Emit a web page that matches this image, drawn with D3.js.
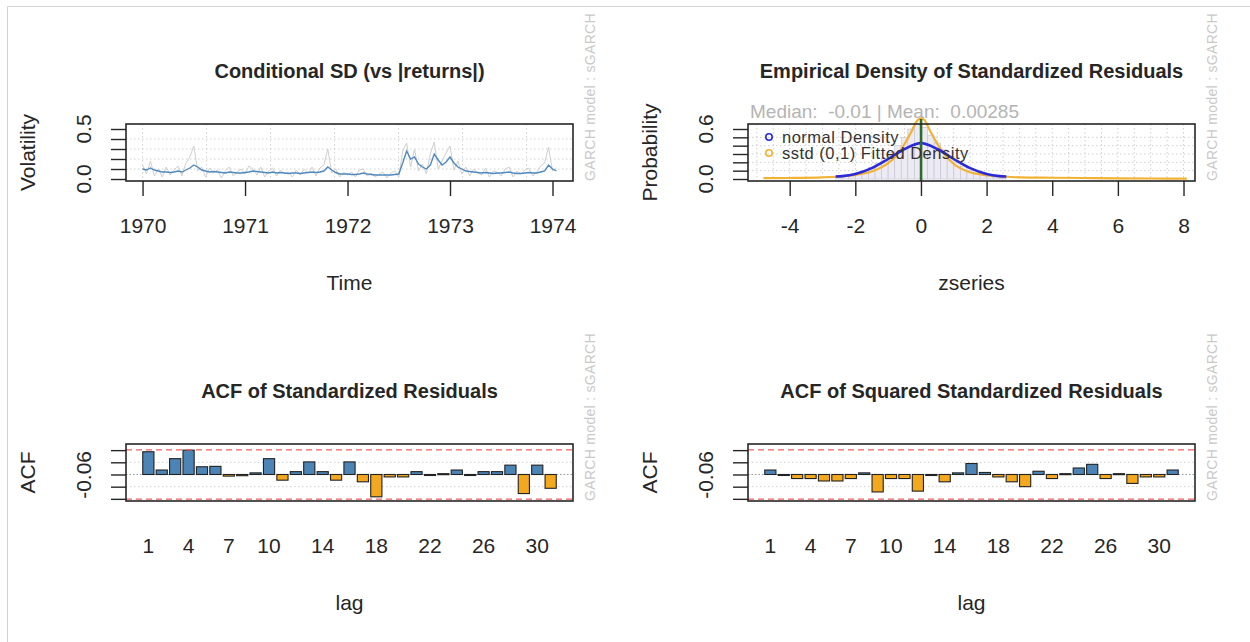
<!DOCTYPE html>
<html>
<head>
<meta charset="utf-8">
<script src="https://cdn.jsdelivr.net/npm/d3@7"></script>
<style>
  body { margin: 0; background: #fff; }
  svg { display: block; font-family: "Liberation Sans", Arial, sans-serif; }
</style>
</head>
<body>
<script>
// values

// panel 1 : conditional sd vs |returns| (biweekly readings)
var tsStart = 1970
var tsStep = 1 / 26
var yearTicks = [1970, 1971, 1972, 1973, 1974]
var sigma = [
  0.10, 0.09, 0.11, 0.09, 0.08, 0.07, 0.07, 0.065, 0.07, 0.08, 0.07, 0.09, 0.11,
  0.14, 0.12, 0.09, 0.08, 0.07, 0.075, 0.07, 0.065, 0.06, 0.07, 0.065, 0.06, 0.06,
  0.065, 0.07, 0.08, 0.075, 0.07, 0.065, 0.06, 0.07, 0.06, 0.065, 0.06, 0.055, 0.06,
  0.06, 0.055, 0.06, 0.065, 0.07, 0.065, 0.07, 0.08, 0.12, 0.09, 0.065, 0.05, 0.05,
  0.05, 0.045, 0.045, 0.05, 0.06, 0.05, 0.045, 0.04, 0.04, 0.04, 0.04, 0.04, 0.045,
  0.05, 0.16, 0.28, 0.20, 0.22, 0.15, 0.12, 0.10, 0.14, 0.25, 0.19, 0.14, 0.17,
  0.22, 0.16, 0.12, 0.10, 0.08, 0.075, 0.07, 0.065, 0.06, 0.065, 0.06, 0.055, 0.06,
  0.06, 0.065, 0.07, 0.06, 0.055, 0.055, 0.06, 0.065, 0.06, 0.06, 0.07, 0.08, 0.14, 0.10, 0.08
]
var absReturns = [
  0.14, 0.05, 0.18, 0.03, 0.10, 0.02, 0.12, 0.04, 0.09, 0.13, 0.03, 0.16, 0.22,
  0.33, 0.08, 0.12, 0.02, 0.11, 0.06, 0.09, 0.01, 0.08, 0.12, 0.03, 0.07, 0.10,
  0.05, 0.13, 0.10, 0.04, 0.12, 0.02, 0.08, 0.11, 0.03, 0.09, 0.05, 0.07, 0.02,
  0.09, 0.04, 0.10, 0.06, 0.12, 0.03, 0.11, 0.14, 0.30, 0.06, 0.10, 0.02, 0.07,
  0.04, 0.07, 0.02, 0.09, 0.10, 0.03, 0.06, 0.02, 0.05, 0.07, 0.01, 0.06, 0.08,
  0.02, 0.28, 0.36, 0.12, 0.30, 0.08, 0.15, 0.05, 0.25, 0.37, 0.10, 0.18, 0.26,
  0.33, 0.09, 0.18, 0.05, 0.12, 0.03, 0.10, 0.06, 0.04, 0.11, 0.02, 0.08, 0.07,
  0.03, 0.10, 0.12, 0.02, 0.08, 0.05, 0.09, 0.11, 0.03, 0.07, 0.13, 0.16, 0.32, 0.08, 0.11
]

// panel 2 : empirical density
var zTicks = [-4, -2, 0, 2, 4, 6, 8]
var histLo = -2.6
var histWidth = 0.2
var histDens = [0.02, 0.03, 0.05, 0.07, 0.10, 0.14, 0.19, 0.25, 0.32, 0.40, 0.50, 0.60, 0.66,
                0.62, 0.52, 0.43, 0.35, 0.27, 0.20, 0.15, 0.10, 0.07, 0.05, 0.03, 0.02, 0.01]
var normZ = [-2.6, -2.4, -2, -1.5, -1, -0.5, 0, 0.5, 1, 1.5, 2, 2.4, 2.6]
var normDens = [0.03, 0.035, 0.06, 0.13, 0.24, 0.36, 0.43, 0.36, 0.24, 0.13, 0.06, 0.035, 0.03]
var sstdZ = [-4.8, -4, -3, -2.5, -2, -1.5, -1, -0.75, -0.5, -0.3, -0.15, 0, 0.1, 0.25, 0.5, 0.75, 1, 1.5, 2, 2.5, 3, 4, 5, 6, 7, 8.1]
var sstdDens = [0.01, 0.012, 0.02, 0.03, 0.05, 0.09, 0.19, 0.28, 0.42, 0.56, 0.68, 0.73, 0.71, 0.6, 0.42, 0.28, 0.18, 0.08, 0.045, 0.03, 0.02, 0.015, 0.012, 0.008, 0.006, 0.005]
var zMean = 0.00285
var subText = "Median:  -0.01 | Mean:  0.00285"
var legendText = ["normal Density", "sstd (0,1) Fitted Density"]

// panels 3 and 4 : acf
var lags = d3.range(1, 32)
var lagLabels = [1, 4, 7, 10, 14, 18, 22, 26, 30]
var acfRes = [0.056, 0.011, 0.039, 0.060, 0.019, 0.020, -0.004, -0.003, 0.004, 0.039,
              -0.014, 0.007, 0.031, 0.007, -0.014, 0.031, -0.018, -0.055, -0.006, -0.006,
              0.007, -0.002, 0.002, 0.011, -0.002, 0.007, 0.007, 0.023, -0.047, 0.023, -0.034]
var acfSq = [0.011, 0.000, -0.010, -0.010, -0.016, -0.016, -0.010, 0.004, -0.043, -0.010,
             -0.010, -0.041, -0.002, -0.018, 0.004, 0.027, 0.005, -0.006, -0.018, -0.030,
             0.008, -0.010, 0.002, 0.016, 0.025, -0.010, 0.002, -0.022, -0.006, -0.006, 0.011]
var acfBound = 0.0606
var acfTicks = [-0.06, -0.03, 0, 0.03, 0.06]

var sideText = "GARCH model : sGARCH"

var W = 1250, H = 642
var fw = 447, fh = 57
var ink = "#262626"

var svg = d3.select("body").append("svg").attr("width", W).attr("height", H)

// page border
svg.append("path").attr("d", "M7.5," + H + "V6.5H" + W)
   .attr("fill", "none").attr("stroke", "#d2d2d2")

const panel = function(left, top, title) {
    var g = svg.append("g").attr("transform", `translate(${left},${top})`)
    g.append("text").attr("x", fw / 2).attr("y", -46)
     .attr("text-anchor", "middle").attr("font-weight", "bold")
     .attr("font-size", 20).attr("fill", ink).text(title)
    g.append("text")
     .attr("transform", `translate(${fw + 22},-27) rotate(-90)`)
     .attr("text-anchor", "middle").attr("font-size", 14).attr("fill", "#c9c9c9")
     .attr("letter-spacing", 0.3)
     .text(sideText)
    return g
}

const frame = function(g) {
    g.append("rect").attr("width", fw).attr("height", fh)
     .attr("fill", "none").attr("stroke", ink).attr("stroke-width", 1.6)
}

const grid = function(g, xs, ys) {
    g.selectAll(null).data(xs).enter().append("line")
     .attr("x1", d => d).attr("x2", d => d).attr("y1", 0).attr("y2", fh)
     .attr("stroke", "#d0d0d0").attr("stroke-dasharray", "1.5,2.5")
    g.selectAll(null).data(ys).enter().append("line")
     .attr("y1", d => d).attr("y2", d => d).attr("x1", 0).attr("x2", fw)
     .attr("stroke", "#d0d0d0").attr("stroke-dasharray", "1.5,2.5")
}

const yAxis = function(g, y, ticks, labels, anchor) {
    g.append("g").call(d3.axisLeft(y).tickValues(ticks).tickSize(15).tickFormat(""))
     .call(a => a.select(".domain").remove())
     .selectAll("line").attr("stroke", ink).attr("stroke-width", 1.4)
    g.selectAll(null).data(labels).enter().append("text")
     .attr("transform", d => `translate(-35,${y(d.v)}) rotate(-90)`)
     .attr("text-anchor", anchor || "middle").attr("font-size", 21).attr("fill", ink)
     .text(d => d.t)
}

const axisTitles = function(g, xt, yt) {
    g.append("text").attr("x", fw / 2).attr("y", fh + 109)
     .attr("text-anchor", "middle").attr("font-size", 21).attr("fill", ink).text(xt)
    g.append("text").attr("transform", `translate(-91,${fh / 2}) rotate(-90)`)
     .attr("text-anchor", "middle").attr("font-size", 21).attr("fill", ink).text(yt)
}

// ---------- panel 1 ----------
var g1 = panel(126, 124, "Conditional SD (vs |returns|)")
var tEnd = tsStart + (sigma.length - 1) * tsStep
var tPad = (tEnd - tsStart) * 0.04
var x1 = d3.scaleLinear().domain([tsStart - tPad, tEnd + tPad]).range([0, fw])
var y1 = d3.scaleLinear().domain([-0.02, 0.55]).range([fh, 0])
grid(g1, d3.range(0, 7).map(i => x1(1970) + i * 64), [0.1, 0.2, 0.3, 0.4].map(y1))
var line1 = d3.line().x((d, i) => x1(tsStart + i * tsStep)).y(d => y1(d))
g1.append("path").datum(absReturns).attr("d", line1)
  .attr("fill", "none").attr("stroke", "#cfcfcf").attr("stroke-width", 1)
g1.append("path").datum(sigma).attr("d", line1)
  .attr("fill", "none").attr("stroke", "#4f89bf").attr("stroke-width", 1.4)
frame(g1)
g1.append("g").attr("transform", `translate(0,${fh})`)
  .call(d3.axisBottom(x1).tickValues(yearTicks).tickSize(15).tickPadding(22).tickFormat(d3.format("d")))
  .call(a => a.select(".domain").remove())
  .call(a => a.selectAll("line").attr("stroke", ink).attr("stroke-width", 1.4))
  .call(a => a.selectAll("text").attr("font-size", 21).attr("fill", ink).attr("font-family", null))
yAxis(g1, y1, [0, 0.1, 0.2, 0.3, 0.4, 0.5], [{v: 0, t: "0.0"}, {v: 0.5, t: "0.5"}])
axisTitles(g1, "Time", "Volatility")

// ---------- panel 2 ----------
var g2 = panel(748, 124, "Empirical Density of Standardized Residuals")
var x2 = d3.scaleLinear().domain([-5.27, 8.35]).range([0, fw])
var y2 = d3.scaleLinear().domain([-0.024, 0.66]).range([fh, 0])
grid(g2, d3.range(-5, 8.5, 0.5).map(x2), [0.1, 0.2, 0.3, 0.4, 0.5].map(y2))
g2.selectAll(".bin").data(histDens).enter().append("rect")
  .attr("x", (d, i) => x2(histLo + i * histWidth))
  .attr("width", x2(histWidth) - x2(0))
  .attr("y", d => y2(d)).attr("height", d => y2(0) - y2(d))
  .attr("fill", "#eceaf2").attr("stroke", "#c9c6d4").attr("stroke-width", 0.7)
g2.append("path").datum(sstdZ.map((z, i) => [z, sstdDens[i]]))
  .attr("d", d3.line().x(d => x2(d[0])).y(d => y2(d[1])).curve(d3.curveMonotoneX))
  .attr("fill", "none").attr("stroke", "#f2b233").attr("stroke-width", 2.2)
g2.append("path").datum(normZ.map((z, i) => [z, normDens[i]]))
  .attr("d", d3.line().x(d => x2(d[0])).y(d => y2(d[1])).curve(d3.curveMonotoneX))
  .attr("fill", "none").attr("stroke", "#2a2ad6").attr("stroke-width", 2.6)
g2.append("line").attr("x1", x2(zMean)).attr("x2", x2(zMean))
  .attr("y1", fh).attr("y2", -5).attr("stroke", "#2d6b2d").attr("stroke-width", 2.6)
frame(g2)
g2.append("g").attr("transform", `translate(0,${fh})`)
  .call(d3.axisBottom(x2).tickValues(zTicks).tickSize(15).tickPadding(22).tickFormat(d3.format("d")))
  .call(a => a.select(".domain").remove())
  .call(a => a.selectAll("line").attr("stroke", ink).attr("stroke-width", 1.4))
  .call(a => a.selectAll("text").attr("font-size", 21).attr("fill", ink).attr("font-family", null)
               .text(d => d3.format("d")(d).replace("−", "-")))
yAxis(g2, y2, [0, 0.1, 0.2, 0.3, 0.4, 0.5, 0.6], [{v: 0, t: "0.0"}, {v: 0.6, t: "0.6"}])
axisTitles(g2, "zseries", "Probability")
g2.append("text").attr("x", 2).attr("y", -6).attr("font-size", 19).attr("fill", "#b4b4b4")
  .attr("xml:space", "preserve").style("white-space", "pre").text(subText)
var leg = g2.selectAll(".leg").data(legendText).enter().append("g")
  .attr("transform", (d, i) => `translate(21,${13 + i * 16})`)
leg.append("circle").attr("r", 3.2).attr("fill", "none").attr("stroke-width", 1.6)
  .attr("stroke", (d, i) => i === 0 ? "#2a2ad6" : "#f2b233")
leg.append("text").attr("x", 13).attr("y", 6).attr("font-size", 16.5).attr("letter-spacing", 0.5)
  .attr("fill", "#333").text(d => d)

// ---------- panels 3 and 4 ----------
const acfPanel = function(left, top, title, vals) {
    var g = panel(left, top, title)
    var x = d3.scaleBand().domain(lags).range([0, fw]).paddingInner(0.167).paddingOuter(1.25)
    var y = d3.scaleLinear().domain([-0.0653, 0.0751]).range([fh, 0])
    grid(g, [], [-0.03, 0.03].map(y))
    g.append("line").attr("x1", 0).attr("x2", fw).attr("y1", y(0)).attr("y2", y(0))
     .attr("stroke", "#8c97a8").attr("stroke-dasharray", "1.5,2")
    g.selectAll(".bar").data(vals).enter().append("rect")
     .attr("x", (d, i) => x(lags[i])).attr("width", x.bandwidth())
     .attr("y", d => y(Math.max(d, 0))).attr("height", d => Math.max(1, Math.abs(y(d) - y(0))))
     .attr("fill", d => d >= 0 ? "#4c84b6" : "#f4a81d").attr("stroke", "#222").attr("stroke-width", 1.1)
    g.selectAll(".cb").data([acfBound, -acfBound]).enter().append("line")
     .attr("x1", 0).attr("x2", fw).attr("y1", d => y(d)).attr("y2", d => y(d))
     .attr("stroke", "#f06060").attr("stroke-width", 1.2).attr("stroke-dasharray", "6,4")
    frame(g)
    g.selectAll(".lagl").data(lagLabels).enter().append("text")
     .attr("x", d => x(d) + x.bandwidth() / 2).attr("y", fh + 52)
     .attr("text-anchor", "middle").attr("font-size", 21).attr("fill", ink).text(d => d)
    yAxis(g, y, acfTicks, [{v: -0.06, t: "-0.06"}], "start")
    axisTitles(g, "lag", "ACF")
}
acfPanel(126, 444, "ACF of Standardized Residuals", acfRes)
acfPanel(748, 444, "ACF of Squared Standardized Residuals", acfSq)
</script>
</body>
</html>
